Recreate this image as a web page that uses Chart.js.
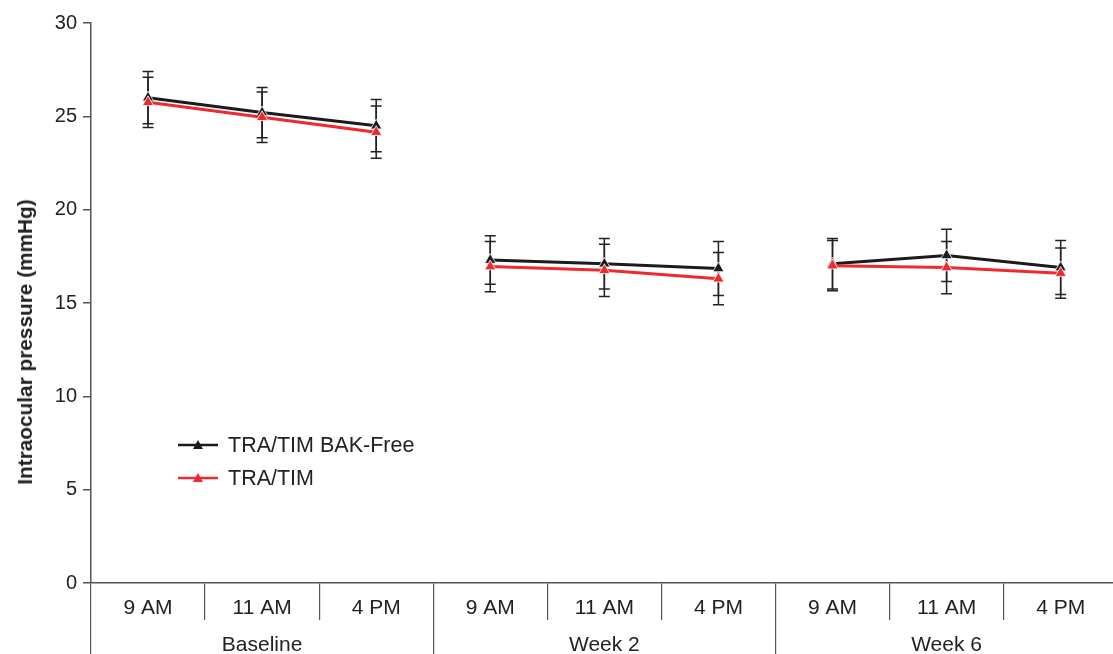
<!DOCTYPE html>
<html>
<head>
<meta charset="utf-8">
<script src="https://cdn.jsdelivr.net/npm/chart.js@4.4.1/dist/chart.umd.min.js"></script>
<style>
  html, body { margin: 0; padding: 0; background: #fff; }
  #wrap { position: relative; width: 1113px; height: 654px; overflow: hidden; }
  #chart { position: absolute; left: 0; top: 5px; }
  #legend { position: absolute; left: 178px; top: 432px; font-family: "Liberation Sans", Arial, sans-serif; font-size: 21.5px; color: #222; }
  .row { display: flex; align-items: center; height: 26px; margin-bottom: 7px; }
  .row svg { margin-right: 10px; }
  #ytitle { position: absolute; left: 25px; top: 342px; transform: translate(-50%, -50%) rotate(-90deg);
    white-space: nowrap; font-family: "Liberation Sans", Arial, sans-serif; font-weight: bold; font-size: 20.8px; color: #222; }
</style>
</head>
<body>
<div id="wrap">
  <canvas id="chart" width="1125" height="649"></canvas>
  <div id="ytitle">Intraocular pressure (mmHg)</div>
  <div id="legend"></div>
</div>
<script>
const timeLabels = ['9 AM', '11 AM', '4 PM', '9 AM', '11 AM', '4 PM', '9 AM', '11 AM', '4 PM'];
const groupLabels = ['Baseline', 'Week 2', 'Week 6'];
const yTicks = [0, 5, 10, 15, 20, 25, 30];

const bakFreeMean = [26.0, 25.2, 24.5, 17.3, 17.1, 16.85, 17.1, 17.55, 16.9];
const bakFreeSd = [1.4, 1.35, 1.4, 1.3, 1.35, 1.45, 1.35, 1.4, 1.45];
const traTimMean = [25.75, 24.95, 24.15, 16.95, 16.75, 16.3, 17.0, 16.9, 16.6];
const traTimSd = [1.35, 1.35, 1.4, 1.35, 1.4, 1.4, 1.35, 1.4, 1.35];

const FONT = '"Liberation Sans", Arial, sans-serif';
const perGroup = timeLabels.length / groupLabels.length;

const series = [
  { label: 'TRA/TIM BAK-Free', data: bakFreeMean, sd: bakFreeSd, color: '#1b1b1b', order: 1 },
  { label: 'TRA/TIM', data: traTimMean, sd: traTimSd, color: '#ee2a2e', order: 0 },
];

// lines break between the three visits
const gapColor = (color) => (ctx) => ((ctx.p0DataIndex + 1) % perGroup === 0 ? 'rgba(0,0,0,0)' : color);

const errorBars = {
  id: 'errorBars',
  beforeDatasetsDraw(chart) {
    const ctx = chart.ctx;
    const y = chart.scales.y;
    ctx.save();
    ctx.strokeStyle = '#222';
    ctx.lineWidth = 1.5;
    chart.data.datasets.forEach((ds, i) => {
      const meta = chart.getDatasetMeta(i);
      meta.data.forEach((pt, j) => {
        const top = y.getPixelForValue(ds.data[j] + ds.sd[j]);
        const bot = y.getPixelForValue(ds.data[j] - ds.sd[j]);
        ctx.beginPath();
        ctx.moveTo(pt.x, top);
        ctx.lineTo(pt.x, bot);
        ctx.moveTo(pt.x - 5.5, top);
        ctx.lineTo(pt.x + 5.5, top);
        ctx.moveTo(pt.x - 5.5, bot);
        ctx.lineTo(pt.x + 5.5, bot);
        ctx.stroke();
      });
    });
    ctx.restore();
  },
};

new Chart('chart', {
  type: 'line',
  data: {
    labels: timeLabels,
    datasets: series.map((s) => ({
      label: s.label,
      data: s.data,
      sd: s.sd,
      order: s.order,
      borderColor: s.color,
      backgroundColor: s.color,
      borderWidth: 3,
      pointStyle: 'triangle',
      pointRadius: 6.5,
      pointBackgroundColor: s.color,
      pointBorderColor: '#fff',
      pointBorderWidth: 0.8,
      tension: 0,
      fill: false,
      segment: { borderColor: gapColor(s.color) },
      xAxisID: 'x',
    })),
  },
  options: {
    responsive: false,
    animation: false,
    layout: { padding: { top: 10, right: 0, left: 0, bottom: 0 } },
    plugins: {
      legend: { display: false },
      tooltip: { enabled: false },
    },
    scales: {
      y: {
        min: 0,
        max: 30,
        afterBuildTicks: (s) => { s.ticks = yTicks.map((v) => ({ value: v })); },
        afterFit: (s) => { s.width = 91; },
        border: { display: true, color: '#555', width: 1.5 },
        grid: { display: true, drawOnChartArea: false, drawTicks: true, tickLength: 8, color: '#555', lineWidth: 1.5 },
        ticks: { font: { family: FONT, size: 20 }, color: '#222', padding: 6 },
      },
      x: {
        type: 'category',
        position: 'bottom',
        offset: true,
        afterFit: (s) => { s.height = 37; },
        border: { display: true, color: '#555', width: 1.5 },
        grid: { display: true, offset: true, drawOnChartArea: false, drawTicks: true, tickLength: 37, color: '#555', lineWidth: 1.2 },
        ticks: { font: { family: FONT, size: 21 }, color: '#222', padding: -24, maxRotation: 0, autoSkip: false },
      },
      x2: {
        type: 'category',
        position: 'bottom',
        labels: groupLabels,
        offset: true,
        afterFit: (s) => { s.height = 34; },
        border: { display: false },
        grid: { display: true, offset: true, drawOnChartArea: false, drawTicks: true, tickLength: 40, color: '#555', lineWidth: 1.2 },
        ticks: { font: { family: FONT, size: 21 }, color: '#222', padding: -27, maxRotation: 0, autoSkip: false },
      },
    },
  },
  plugins: [errorBars],
});

// legend: line with a triangle in the middle, then the label
const legend = document.getElementById('legend');
series.forEach((s) => {
  const row = document.createElement('div');
  row.className = 'row';
  row.innerHTML =
    '<svg width="40" height="12" viewBox="0 0 40 12">' +
    '<line x1="0" y1="6" x2="40" y2="6" stroke="' + s.color + '" stroke-width="2.5"/>' +
    '<polygon points="20,1 25,10 15,10" fill="' + s.color + '"/></svg>' +
    '<span>' + s.label + '</span>';
  legend.appendChild(row);
});
</script>
</body>
</html>
